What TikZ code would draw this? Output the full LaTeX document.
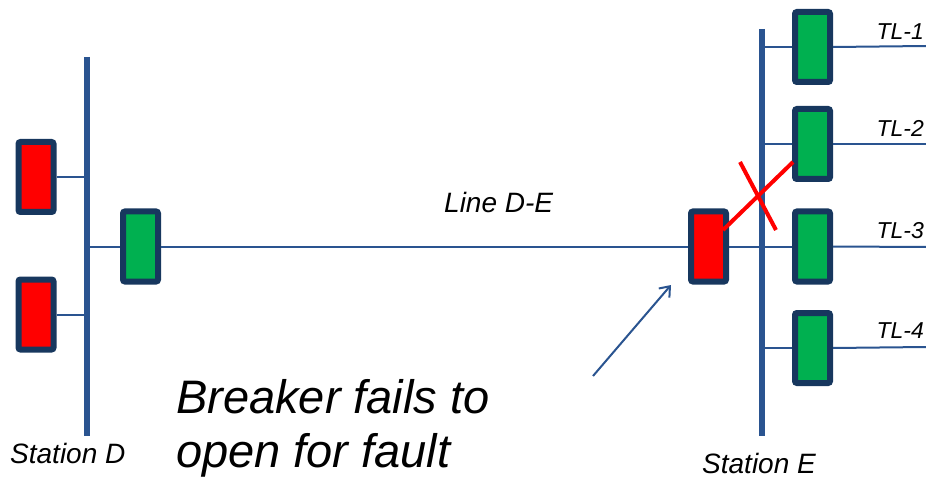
\documentclass[tikz,border=0pt]{standalone}
\usepackage{fontspec}
\setmainfont{Liberation Sans}
\usetikzlibrary{arrows.meta}
\definecolor{busblue}{HTML}{2A5490}
\definecolor{boxedge}{HTML}{17375E}
\definecolor{brkgreen}{HTML}{00B050}
\definecolor{brkred}{HTML}{FF0000}
\tikzset{
  brk/.style={draw=boxedge, line width=6pt, rounded corners=2pt, inner sep=0pt,
    minimum width=35pt, minimum height=70pt},
  closedbrk/.style={brk, fill=brkred},
  openbrk/.style={brk, fill=brkgreen},
  bus/.style={draw=busblue, line width=6pt},
  wire/.style={draw=busblue, line width=2pt},
  lbl/.style={font=\itshape\fontsize{28}{31}\selectfont, inner sep=0pt},
  tllbl/.style={font=\itshape\fontsize{23}{26}\selectfont, inner sep=0pt, anchor=base east},
  bigtxt/.style={anchor=base west, inner sep=0pt, font=\itshape\fontsize{47}{54}\selectfont},
  cross/.style={draw=brkred, line width=4pt},
}
\begin{document}
\begin{tikzpicture}[x=1pt,y=-1pt]
\useasboundingbox (0,0) rectangle (926,481);
% buses
\coordinate (dtop) at (87,57);
\coordinate (dbot) at (87,436);
\coordinate (etop) at (761.5,29);
\coordinate (ebot) at (761.5,436);
% line ends at right
\coordinate (r1) at (926,46);
\coordinate (r2) at (926,144);
\coordinate (r3) at (926,247);
\coordinate (r4) at (926,347);
% breakers
\node[closedbrk] (rd1) at (36,177) {};
\node[closedbrk] (rd2) at (36,314.5) {};
\node[openbrk] (gd) at (140.5,246.5) {};
\node[closedbrk] (re) at (708.5,246.5) {};
\node[openbrk] (t1) at (812.5,47) {};
\node[openbrk] (t2) at (812.5,144) {};
\node[openbrk] (t3) at (812.5,246.5) {};
\node[openbrk] (t4) at (812.5,348) {};
% wires
\draw[wire] (rd1.east) -- (rd1.east -| dtop);
\draw[wire] (rd2.east) -- (rd2.east -| dtop);
\draw[wire] (gd.west -| dtop) -- (gd.west);
\draw[wire] (gd.east) -- (re.west);
\draw[wire] (re.east) -- (t3.west);
\draw[wire] (t1.west -| etop) -- (t1.west);
\draw[wire] (t2.west -| etop) -- (t2.west);
\draw[wire] (t4.west -| etop) -- (t4.west);
\draw[wire] (t1.east) -- (r1);
\draw[wire] (t2.east) -- (r2);
\draw[wire] (t3.east) -- (r3);
\draw[wire] (t4.east) -- (r4);
\draw[bus] (dtop) -- (dbot);
\draw[bus] (etop) -- (ebot);
% fault cross
\coordinate (xa1) at (723,230);
\coordinate (xa2) at (793,162);
\coordinate (xb1) at (740,162);
\coordinate (xb2) at (776,230);
\draw[cross] (xa1) -- (xa2);
\draw[cross] (xb1) -- (xb2);
% labels
\node[tllbl] (l1) at (924,40) {TL-1};
\node[tllbl] (l2) at (924,137) {TL-2};
\node[tllbl] (l3) at (924,238) {TL-3};
\node[tllbl] (l4) at (924,338) {TL-4};
\node[lbl, anchor=base west] (lde) at (444,212) {Line D-E};
\node[lbl, anchor=base west] (sd) at (10,463) {Station D};
\node[lbl, anchor=base west] (se) at (702,473) {Station E};
\node[bigtxt] (bf1) at (176,413) {Breaker fails to};
\node[bigtxt] (bf2) at (176,467) {open for fault};
% arrow
\coordinate (atail) at (593,376);
\coordinate (atip) at (671,285);
\draw[wire, -{Straight Barb[length=9pt,width=14pt]}] (atail) -- (atip);
\end{tikzpicture}
\end{document}
